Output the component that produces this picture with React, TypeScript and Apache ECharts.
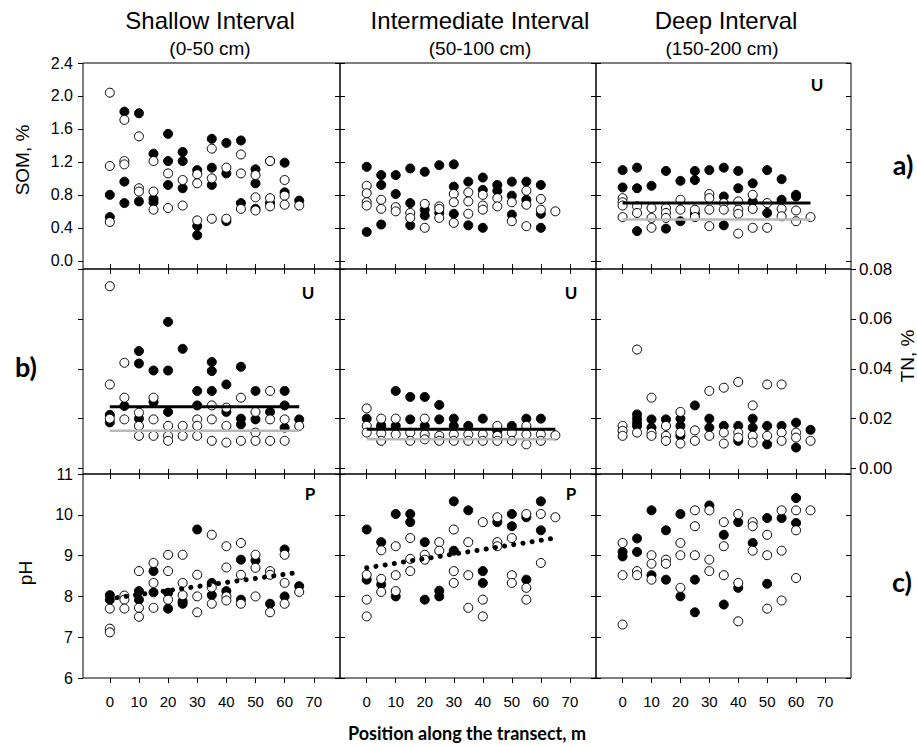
import React, { useEffect, useRef } from "react";
import * as echarts from "echarts";

// ---------- tick values ----------
const X_TICKS = [0, 10, 20, 30, 40, 50, 60, 70];
const SOM_TICKS = [0, 0.4, 0.8, 1.2, 1.6, 2.0, 2.4];
const TN_TICKS = [0, 0.02, 0.04, 0.06, 0.08];
const PH_TICKS = [6, 7, 8, 9, 10, 11];

const COLUMN_TITLES = ["Shallow Interval", "Intermediate Interval", "Deep Interval"];
const COLUMN_SUBTITLES = ["(0-50 cm)", "(50-100 cm)", "(150-200 cm)"];

// ---------- SOM, % (row a) ----------
const somShallowFilled = [[0,0.80],[0,0.53],[5,1.81],[5,0.96],[5,0.70],[10,1.79],[10,0.72],[15,1.30],[15,0.75],[15,0.71],[20,1.54],[20,1.21],[20,0.92],[25,1.32],[25,1.21],[25,0.88],[30,1.10],[30,0.42],[30,0.31],[35,1.48],[35,1.13],[35,0.92],[40,1.43],[40,1.06],[40,0.48],[45,1.46],[45,0.70],[50,1.11],[50,0.94],[50,0.63],[55,1.21],[55,0.70],[60,1.19],[60,0.83],[65,0.73]];
const somShallowOpen = [[0,2.04],[0,1.15],[0,0.47],[5,1.71],[5,1.21],[5,1.17],[10,1.51],[10,0.88],[10,0.84],[15,1.21],[15,0.84],[15,0.62],[20,1.06],[20,0.64],[25,0.98],[25,0.67],[30,1.05],[30,0.94],[30,0.49],[35,1.36],[35,1.00],[35,0.51],[40,1.13],[40,0.51],[45,1.29],[45,1.06],[45,0.63],[50,1.04],[50,0.77],[50,0.61],[55,1.21],[55,0.76],[55,0.66],[60,0.98],[60,0.79],[60,0.68],[65,0.67]];
const somIntermediateFilled = [[0,1.14],[0,0.35],[5,1.04],[5,0.92],[5,0.44],[10,1.04],[10,0.81],[15,1.12],[15,0.70],[15,0.43],[20,1.08],[20,0.62],[20,0.55],[25,1.16],[25,0.58],[30,1.17],[30,0.90],[30,0.57],[35,0.96],[35,0.43],[40,1.01],[40,0.86],[40,0.40],[45,0.92],[45,0.85],[50,0.96],[50,0.79],[50,0.56],[55,0.96],[55,0.74],[60,0.92],[60,0.57],[60,0.40]];
const somIntermediateOpen = [[0,0.91],[0,0.82],[0,0.71],[0,0.67],[5,0.74],[5,0.63],[10,0.65],[10,0.60],[15,0.58],[15,0.52],[20,0.69],[20,0.40],[25,0.66],[25,0.63],[25,0.52],[30,0.81],[30,0.71],[30,0.46],[35,0.83],[35,0.72],[35,0.57],[40,0.80],[40,0.67],[40,0.62],[45,0.76],[45,0.66],[50,0.71],[50,0.48],[55,0.85],[55,0.68],[55,0.42],[60,0.75],[60,0.62],[65,0.60]];
const somDeepFilled = [[0,1.10],[0,0.89],[5,1.13],[5,0.88],[5,0.36],[10,0.91],[15,1.09],[15,0.39],[20,0.97],[20,0.48],[25,1.09],[25,0.98],[25,0.57],[30,1.10],[35,1.13],[35,0.78],[35,0.43],[40,1.09],[40,0.88],[45,0.94],[45,0.72],[50,1.10],[50,0.58],[55,0.99],[55,0.74],[60,0.80],[60,0.78]];
const somDeepOpen = [[0,0.76],[0,0.71],[0,0.67],[0,0.53],[5,0.66],[5,0.58],[10,0.64],[10,0.52],[10,0.40],[15,0.64],[15,0.58],[15,0.52],[20,0.74],[20,0.62],[25,0.62],[25,0.53],[30,0.81],[30,0.76],[30,0.62],[30,0.42],[35,0.70],[35,0.62],[40,0.72],[40,0.62],[40,0.57],[40,0.33],[45,0.80],[45,0.63],[45,0.40],[50,0.70],[50,0.40],[55,0.63],[55,0.54],[60,0.61],[60,0.48],[65,0.53]];

// ---------- TN, % (row b) ----------
const tnShallowFilled = [[0,0.0215],[0,0.0185],[5,0.0251],[10,0.0471],[10,0.0421],[10,0.0200],[15,0.0393],[15,0.0267],[20,0.0588],[20,0.0393],[20,0.0227],[25,0.0480],[30,0.0311],[30,0.0253],[35,0.0427],[35,0.0391],[35,0.0311],[40,0.0337],[40,0.0227],[45,0.0408],[45,0.0200],[45,0.0177],[50,0.0311],[50,0.0197],[55,0.0227],[60,0.0311],[60,0.0253],[60,0.0164],[65,0.0197]];
const tnShallowOpen = [[0,0.0731],[0,0.0337],[0,0.0200],[5,0.0424],[5,0.0284],[5,0.0197],[10,0.0224],[10,0.0171],[10,0.0131],[15,0.0284],[15,0.0197],[15,0.0131],[20,0.0171],[20,0.0131],[20,0.0111],[25,0.0171],[25,0.0131],[30,0.0197],[30,0.0171],[30,0.0131],[35,0.0253],[35,0.0197],[35,0.0111],[40,0.0244],[40,0.0171],[40,0.0104],[45,0.0284],[45,0.0111],[50,0.0227],[50,0.0144],[50,0.0111],[55,0.0311],[55,0.0197],[55,0.0111],[60,0.0197],[60,0.0111],[65,0.0171]];
const tnIntermediateFilled = [[0,0.0200],[5,0.0173],[5,0.0165],[10,0.0311],[10,0.0171],[15,0.0287],[15,0.0197],[20,0.0287],[20,0.0171],[25,0.0255],[25,0.0197],[30,0.0200],[30,0.0171],[35,0.0171],[40,0.0200],[45,0.0151],[50,0.0171],[55,0.0200],[60,0.0200]];
const tnIntermediateOpen = [[0,0.0241],[0,0.0171],[0,0.0144],[5,0.0200],[5,0.0141],[5,0.0111],[10,0.0200],[10,0.0137],[15,0.0144],[15,0.0111],[20,0.0200],[20,0.0137],[20,0.0117],[25,0.0131],[25,0.0111],[30,0.0137],[30,0.0111],[35,0.0137],[35,0.0111],[40,0.0137],[40,0.0111],[45,0.0171],[45,0.0131],[45,0.0111],[50,0.0144],[50,0.0111],[55,0.0171],[55,0.0137],[55,0.0097],[60,0.0137],[60,0.0111],[65,0.0133]];
const tnDeepFilled = [[5,0.0217],[5,0.0200],[5,0.0184],[5,0.0171],[10,0.0197],[10,0.0164],[15,0.0197],[20,0.0200],[20,0.0171],[20,0.0131],[25,0.0253],[30,0.0200],[30,0.0164],[35,0.0171],[40,0.0171],[40,0.0111],[45,0.0200],[45,0.0164],[50,0.0171],[50,0.0097],[55,0.0171],[60,0.0184],[60,0.0084],[65,0.0155]];
const tnDeepOpen = [[0,0.0171],[0,0.0151],[0,0.0131],[5,0.0477],[5,0.0144],[10,0.0284],[10,0.0144],[10,0.0131],[15,0.0171],[15,0.0131],[15,0.0111],[20,0.0227],[20,0.0144],[20,0.0100],[25,0.0153],[25,0.0111],[30,0.0311],[30,0.0131],[35,0.0324],[35,0.0144],[35,0.0100],[40,0.0347],[40,0.0144],[40,0.0124],[45,0.0253],[45,0.0131],[45,0.0104],[50,0.0337],[50,0.0131],[55,0.0337],[55,0.0144],[55,0.0111],[60,0.0144],[60,0.0124],[65,0.0111]];

// ---------- pH (row c) ----------
const phShallowFilled = [[0,8.03],[0,7.92],[10,8.13],[10,7.92],[15,8.62],[15,8.10],[20,8.09],[20,7.70],[25,7.88],[25,7.82],[30,9.64],[35,8.33],[35,8.03],[40,8.13],[45,8.90],[45,7.92],[50,8.88],[55,7.82],[60,9.15],[60,8.00],[65,8.25]];
const phShallowOpen = [[0,7.70],[0,7.21],[0,7.12],[5,8.02],[5,7.92],[5,7.70],[10,8.62],[10,7.72],[10,7.50],[15,8.82],[15,8.33],[15,7.72],[20,9.02],[20,8.62],[20,7.92],[25,9.02],[25,8.33],[25,8.03],[30,8.53],[30,8.00],[30,7.61],[35,9.51],[35,8.22],[35,7.82],[40,9.23],[40,8.71],[40,8.00],[40,7.90],[45,9.31],[45,8.53],[45,7.82],[50,9.02],[50,8.70],[50,8.00],[55,8.62],[55,8.53],[55,7.61],[60,9.02],[60,8.33],[60,7.82],[65,8.11]];
const phIntermediateFilled = [[0,9.64],[0,8.41],[5,9.33],[5,8.29],[10,10.02],[10,8.00],[15,10.02],[15,9.82],[20,9.33],[20,7.92],[25,8.14],[25,8.00],[30,10.33],[30,9.12],[35,10.11],[40,8.62],[40,8.33],[45,9.82],[50,10.02],[50,9.72],[55,9.94],[55,8.41],[60,10.33],[60,9.62]];
const phIntermediateOpen = [[0,8.53],[0,7.92],[0,7.51],[5,9.13],[5,8.43],[5,8.11],[10,9.23],[10,8.52],[10,8.13],[15,9.43],[15,8.92],[15,8.62],[20,9.02],[20,8.90],[25,9.33],[25,9.12],[30,9.64],[30,8.62],[30,8.33],[35,9.33],[35,8.52],[35,7.72],[40,9.82],[40,7.92],[40,7.51],[45,9.94],[45,9.33],[45,9.23],[50,9.43],[50,8.52],[50,8.33],[55,10.02],[55,8.21],[55,7.92],[60,10.02],[60,8.82],[65,9.94]];
const phDeepFilled = [[0,9.09],[0,8.98],[5,9.42],[5,9.09],[10,10.11],[10,8.52],[15,9.62],[15,8.41],[20,10.02],[20,8.00],[25,8.41],[25,7.61],[30,10.23],[35,9.51],[35,7.80],[40,9.82],[40,8.21],[45,9.31],[50,9.92],[50,8.31],[55,9.92],[60,10.41],[60,9.80]];
const phDeepOpen = [[0,9.31],[0,8.52],[0,7.31],[5,8.62],[5,8.52],[10,9.01],[10,8.80],[10,8.41],[15,8.90],[15,8.80],[20,9.31],[20,9.01],[20,8.21],[25,10.11],[25,9.72],[25,9.01],[30,10.11],[30,8.90],[30,8.62],[35,9.82],[35,9.23],[35,8.52],[40,10.02],[40,8.33],[40,7.39],[45,9.82],[45,9.72],[45,9.12],[50,9.51],[50,9.01],[50,7.70],[55,10.11],[55,9.12],[55,7.90],[60,10.11],[60,9.62],[60,8.45],[65,10.11]];

// ---------- fitted lines ----------
const FIT_X = [0, 65];
const somDeepFit = { black: 0.70, gray: 0.50 };
const tnShallowFit = { black: 0.0248, gray: 0.0151 };
const tnIntermediateFit = { black: 0.0157, gray: 0.0117 };
const phShallowTrend = [[2.5, 7.97], [65, 8.59]];
const phIntermediateTrend = [[0, 8.70], [65, 9.43]];

const SANS = "'Liberation Sans', Arial, sans-serif";
const BOLD = "Lato, 'Open Sans', sans-serif";

export default function App() {
  const ref = useRef<HTMLDivElement>(null);

  useEffect(() => {
    if (!ref.current) return;
    const chart = echarts.init(ref.current, null, { renderer: "svg" });

    const lefts = [83, 340, 596];
    const widths = [257, 256, 255];
    const tops = [63, 269, 474];
    const heights = [206, 205, 204];
    const X_MIN = -9.2;
    const X_MAX = 79;

    const rows = [
      { min: -0.1, max: 2.4, ticks: SOM_TICKS, fmt: (v: number) => v.toFixed(1) },
      { min: -0.0022, max: 0.08, ticks: TN_TICKS, fmt: (v: number) => v.toFixed(2) },
      { min: 6, max: 11, ticks: PH_TICKS, fmt: (v: number) => String(v) },
    ];

    const panels: any[][] = [
      [
        { filled: somShallowFilled, open: somShallowOpen },
        { filled: somIntermediateFilled, open: somIntermediateOpen },
        { filled: somDeepFilled, open: somDeepOpen, fit: somDeepFit },
      ],
      [
        { filled: tnShallowFilled, open: tnShallowOpen, fit: tnShallowFit },
        { filled: tnIntermediateFilled, open: tnIntermediateOpen, fit: tnIntermediateFit },
        { filled: tnDeepFilled, open: tnDeepOpen },
      ],
      [
        { filled: phShallowFilled, open: phShallowOpen, trend: phShallowTrend },
        { filled: phIntermediateFilled, open: phIntermediateOpen, trend: phIntermediateTrend },
        { filled: phDeepFilled, open: phDeepOpen },
      ],
    ];

    const grids: any[] = [];
    const xAxes: any[] = [];
    const yAxes: any[] = [];
    const series: any[] = [];
    const tickStyle = { color: "#000", width: 1 };

    for (let r = 0; r < 3; r++) {
      for (let c = 0; c < 3; c++) {
        const gi = grids.length;
        grids.push({
          left: lefts[c],
          top: tops[r],
          width: widths[c],
          height: heights[r],
          show: true,
          borderColor: "#000",
          borderWidth: 1,
          backgroundColor: "rgba(0,0,0,0)",
          containLabel: false,
        });
        const xi = xAxes.length;
        xAxes.push({
          gridIndex: gi,
          type: "value",
          position: "bottom",
          min: X_MIN,
          max: X_MAX,
          axisLine: { show: false, onZero: false },
          splitLine: { show: false },
          axisTick: {
            show: true,
            inside: r < 2,
            length: 5,
            customValues: X_TICKS,
            lineStyle: tickStyle,
          },
          axisLabel: {
            show: r === 2,
            customValues: X_TICKS,
            fontSize: 15,
            color: "#000",
            margin: 16,
            fontFamily: SANS,
          },
        });
        if (r > 0) {
          xAxes.push({
            gridIndex: gi,
            type: "value",
            position: "top",
            min: X_MIN,
            max: X_MAX,
            axisLine: { show: false, onZero: false },
            splitLine: { show: false },
            axisTick: {
              show: true,
              inside: true,
              length: 5,
              customValues: X_TICKS,
              lineStyle: tickStyle,
            },
            axisLabel: { show: false },
          });
        }
        const row = rows[r];
        const yi = yAxes.length;
        yAxes.push({
          gridIndex: gi,
          type: "value",
          position: "left",
          min: row.min,
          max: row.max,
          axisLine: { show: false, onZero: false },
          splitLine: { show: false },
          axisTick: {
            show: true,
            inside: c !== 0,
            length: 5,
            customValues: row.ticks,
            lineStyle: tickStyle,
          },
          axisLabel: {
            show: c === 0 && r !== 1,
            customValues: row.ticks,
            formatter: (v: number) => row.fmt(v),
            fontSize: 16,
            color: "#000",
            margin: 10,
            fontFamily: SANS,
          },
        });
        const rightLabels = c === 2 && r === 1;
        yAxes.push({
          gridIndex: gi,
          type: "value",
          position: "right",
          min: row.min,
          max: row.max,
          axisLine: { show: false, onZero: false },
          splitLine: { show: false },
          axisTick: {
            show: true,
            inside: !rightLabels,
            length: 5,
            customValues: row.ticks,
            lineStyle: tickStyle,
          },
          axisLabel: {
            show: rightLabels,
            customValues: row.ticks,
            formatter: (v: number) => row.fmt(v),
            fontSize: 17,
            color: "#000",
            margin: 8,
            fontFamily: SANS,
          },
        });

        const p = panels[r][c];
        series.push({
          type: "scatter",
          xAxisIndex: xi,
          yAxisIndex: yi,
          data: p.filled,
          symbol: "circle",
          symbolSize: 9,
          itemStyle: { color: "#000", borderColor: "#000", borderWidth: 1, opacity: 1 },
          z: 2,
        });
        series.push({
          type: "scatter",
          xAxisIndex: xi,
          yAxisIndex: yi,
          data: p.open,
          symbol: "circle",
          symbolSize: 9,
          itemStyle: { color: "#fff", borderColor: "#000", borderWidth: 1, opacity: 1 },
          z: 3,
        });
        if (p.fit) {
          series.push({
            type: "line",
            xAxisIndex: xi,
            yAxisIndex: yi,
            data: FIT_X.map((x) => [x, p.fit.gray]),
            symbol: "none",
            lineStyle: { color: "#b8b8b8", width: 2.5 },
            z: 4,
          });
          series.push({
            type: "line",
            xAxisIndex: xi,
            yAxisIndex: yi,
            data: FIT_X.map((x) => [x, p.fit.black]),
            symbol: "none",
            lineStyle: { color: "#000", width: 3 },
            z: 5,
          });
        }
        if (p.trend) {
          series.push({
            type: "line",
            xAxisIndex: xi,
            yAxisIndex: yi,
            data: p.trend,
            symbol: "none",
            lineStyle: { color: "#000", width: 5, type: [0.1, 9.2], cap: "round" },
            z: 5,
          });
        }
      }
    }

    const txt = (x: number, y: number, text: string, font: string, extra: any = {}) => ({
      type: "text",
      x,
      y,
      rotation: extra.rotation || 0,
      silent: true,
      style: {
        x: 0,
        y: 0,
        text,
        font,
        fill: "#000",
        textAlign: "center",
        align: "center",
        textVerticalAlign: "middle",
        verticalAlign: "middle",
      },
    });

    const titleCenters = [210, 480, 726];
    const subCenters = [210, 480, 722];
    const graphics: any[] = [];
    for (let i = 0; i < 3; i++) {
      graphics.push(txt(titleCenters[i], 20, COLUMN_TITLES[i], `24px ${SANS}`));
      graphics.push(txt(subCenters[i], 48, COLUMN_SUBTITLES[i], `19px ${SANS}`));
    }
    graphics.push(txt(22, 160, "SOM, %", `19px ${SANS}`, { rotation: Math.PI / 2 }));
    graphics.push(txt(25, 573, "pH", `19px ${SANS}`, { rotation: Math.PI / 2 }));
    graphics.push(txt(907, 356, "TN, %", `19px ${SANS}`, { rotation: Math.PI / 2 }));
    graphics.push(txt(903, 164, "a)", `bold 27px ${BOLD}`));
    graphics.push(txt(26, 366, "b)", `bold 27px ${BOLD}`));
    graphics.push(txt(902, 581, "c)", `bold 27px ${BOLD}`));
    graphics.push(txt(817, 84, "U", `bold 17px ${BOLD}`));
    graphics.push(txt(308, 292, "U", `bold 17px ${BOLD}`));
    graphics.push(txt(571, 292, "U", `bold 17px ${BOLD}`));
    graphics.push(txt(310, 493, "P", `bold 17px ${BOLD}`));
    graphics.push(txt(571, 493, "P", `bold 17px ${BOLD}`));
    graphics.push(txt(467, 733, "Position along the transect, m", `bold 18px ${BOLD}`));

    chart.setOption({
      animation: false,
      backgroundColor: "#fff",
      grid: grids,
      xAxis: xAxes,
      yAxis: yAxes,
      series,
      graphic: { elements: graphics },
    });

    return () => chart.dispose();
  }, []);

  return (
    <div
      ref={ref}
      style={{ position: "fixed", left: 0, top: 0, width: 917, height: 746, background: "#fff" }}
    />
  );
}
